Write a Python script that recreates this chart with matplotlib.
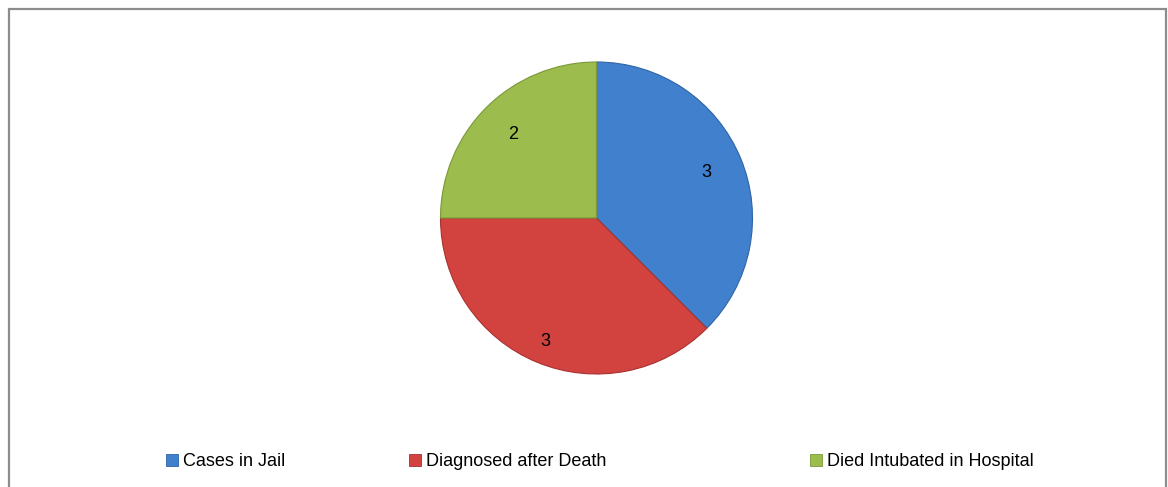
import matplotlib
matplotlib.use("Agg")
import matplotlib.pyplot as plt
from matplotlib.patches import Rectangle, Patch

plt.rcParams["font.family"] = ["Liberation Sans", "DejaVu Sans"]

# chart data
categories = ["Cases in Jail", "Diagnosed after Death", "Died Intubated in Hospital"]
values = [3, 3, 2]
colors = ["#4180cc", "#d2423f", "#9cbd4d"]
edges = ["#2f64a6", "#a83230", "#7a9838"]

W, H = 1168, 487
fig = plt.figure(figsize=(W / 100, H / 100), dpi=100)
fig.patch.set_facecolor("white")

# outer chart border
fig.patches.append(Rectangle((9 / W, -0.01), (1166 - 9) / W, (H - 9) / H + 0.01,
                             transform=fig.transFigure, fill=False,
                             edgecolor="#8c8c8c", linewidth=1.6))

# pie: center ~ (596.5, 218), radius ~155 px
cx, cy, r = 596.5, 218, 156
ax = fig.add_axes([(cx - r) / W, (H - cy - r) / H, 2 * r / W, 2 * r / H])
wedges, texts, autotexts = ax.pie(
    values, colors=colors, startangle=90, counterclock=False,
    autopct=lambda p: "%d" % round(p * sum(values) / 100),
    pctdistance=0.76, radius=1,
    wedgeprops=dict(linewidth=0.8),
    textprops=dict(fontsize=13, color="black"),
)
for w, ec in zip(wedges, edges):
    w.set_edgecolor(ec)
# nudge the bottom label outward a bit, like the original
x, y = autotexts[1].get_position()
autotexts[1].set_position((x * 1.13, y * 1.13))
ax.set_xlim(-1.0, 1.0)
ax.set_ylim(-1.0, 1.0)
ax.set_aspect("equal")
ax.axis("off")

# legend entries placed like the original
legend_x = [166, 409, 810]
for x, lab, c, ec in zip(legend_x, categories, colors, edges):
    h = Patch(facecolor=c, edgecolor=ec, linewidth=0.6)
    fig.legend([h], [lab], loc="center left", bbox_to_anchor=(x / W, 1 - 462 / H),
               frameon=False, fontsize=13, handlelength=0.65, handleheight=0.65,
               handletextpad=0.3, borderpad=0, borderaxespad=0)

fig.savefig("out.png", dpi=100)
